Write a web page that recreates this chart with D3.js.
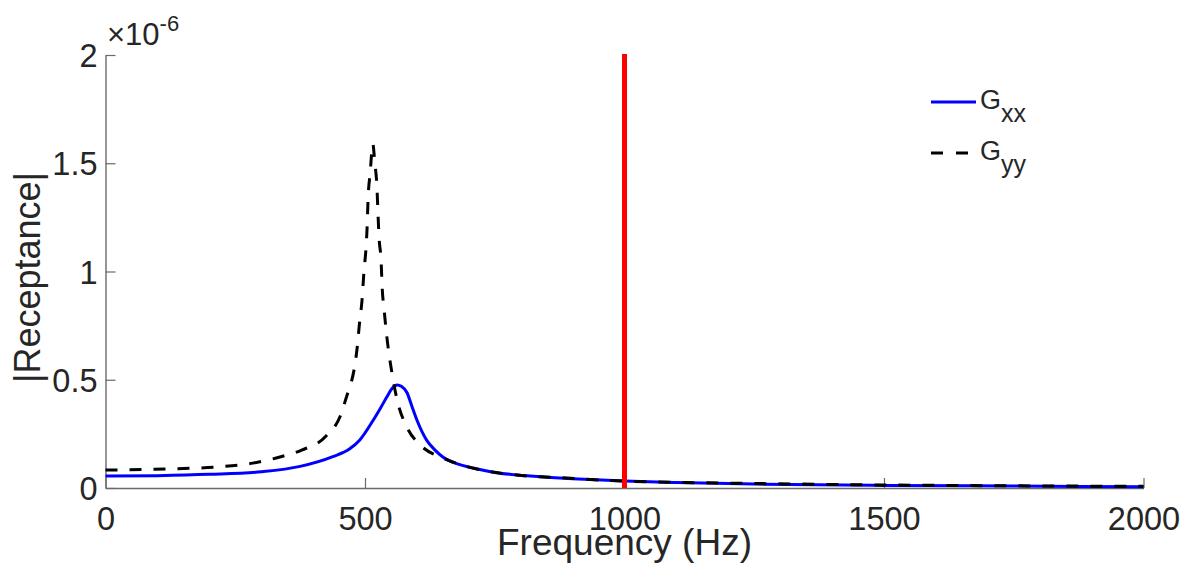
<!DOCTYPE html>
<html>
<head>
<meta charset="utf-8">
<script src="https://cdn.jsdelivr.net/npm/d3@7"></script>
<style>
  body { margin: 0; background: #fff; }
  svg { display: block; }
  .lbl { font-family: "Liberation Sans", Arial, Helvetica, sans-serif; fill: #262626; }
</style>
</head>
<body>
<svg id="chart" width="1192" height="569"></svg>
<script>
// receptance magnitude, in units of 1e-6
var freqXX = [0, 100, 200, 300, 375, 438, 470, 490, 516, 530, 542, 552, 562, 570, 581, 590, 600, 619, 635, 650, 680, 708, 750, 793, 850, 900, 1000, 1100, 1250, 1500, 1750, 2000];
var gxx    = [0.055, 0.057, 0.063, 0.075, 0.100, 0.145, 0.180, 0.222, 0.314, 0.370, 0.420, 0.460, 0.476, 0.470, 0.440, 0.380, 0.314, 0.220, 0.175, 0.143, 0.110, 0.092, 0.072, 0.060, 0.050, 0.043, 0.032, 0.025, 0.018, 0.012, 0.009, 0.006];

var freqYY = [0, 117, 214, 284, 336, 378, 425, 452, 467, 471, 485, 490, 494, 498, 502, 504, 506, 510, 515, 519, 523, 525, 527, 531, 533, 537, 542, 552, 562, 581, 606, 650, 708, 793, 889, 997, 1250, 1500, 1750, 2000];
var gyy    = [0.083, 0.088, 0.097, 0.115, 0.143, 0.175, 0.240, 0.330, 0.440, 0.467, 0.650, 0.776, 0.860, 1.000, 1.110, 1.200, 1.340, 1.455, 1.590, 1.500, 1.390, 1.270, 1.160, 1.050, 0.930, 0.820, 0.700, 0.530, 0.406, 0.280, 0.200, 0.139, 0.092, 0.060, 0.046, 0.032, 0.021, 0.014, 0.010, 0.008];

var xTicks = [0, 500, 1000, 1500, 2000];
var yTicks = [0, 0.5, 1, 1.5, 2];
var markerFreq = 1000;

var svg = d3.select("#chart");

var x = d3.scaleLinear().domain([0, 2000]).range([105.5, 1143.5]);
var y = d3.scaleLinear().domain([0, 2]).range([488, 55]);

// axes (matlab style, ticks pointing in)
var xAxis = d3.axisBottom(x).tickValues(xTicks).tickFormat(d3.format("d"))
    .tickSizeInner(-10).tickSizeOuter(0).tickPadding(19);
var yAxis = d3.axisLeft(y).tickValues(yTicks).tickFormat(function(d) { return String(d); })
    .tickSizeInner(-10).tickSizeOuter(0).tickPadding(8);

function styleAxis(g) {
  g.select(".domain").attr("stroke", "#6a6a6a").attr("stroke-width", 1.4);
  g.selectAll(".tick line").attr("stroke", "#6a6a6a").attr("stroke-width", 1.2);
  g.selectAll(".tick text").attr("class", "lbl").style("font-size", "32.5px").attr("fill", "#262626");
}

svg.append("g").attr("transform", "translate(0,488)").call(xAxis).call(styleAxis)
  .selectAll(".tick text").attr("dy", "0.71em");
svg.append("g").attr("transform", "translate(105.5,0)").call(yAxis).call(styleAxis)
  .selectAll(".tick text").attr("dy", "0.36em");

// exponent
var expo = svg.append("text").attr("class", "lbl").attr("x", 107).attr("y", 45).style("font-size", "31px");
expo.append("tspan").text("\u00d710");
expo.append("tspan").attr("dy", -14).style("font-size", "22px").text("-6");

// axis labels
svg.append("text").attr("class", "lbl").attr("x", (x(0) + x(2000)) / 2).attr("y", 555)
  .attr("text-anchor", "middle").style("font-size", "37px").text("Frequency (Hz)");
svg.append("text").attr("class", "lbl")
  .attr("transform", "translate(40," + ((y(0) + y(2)) / 2 + 6) + ") rotate(-90)")
  .attr("text-anchor", "middle").style("font-size", "36px").text("|Receptance|");

// curves
var line = d3.line()
  .x(function(d) { return x(d[0]); })
  .y(function(d) { return y(d[1]); })
  .curve(d3.curveMonotoneX);

svg.append("path").datum(d3.zip(freqXX, gxx)).attr("d", line)
  .attr("fill", "none").attr("stroke", "#0000ff").attr("stroke-width", 3);
svg.append("path").datum(d3.zip(freqYY, gyy)).attr("d", line)
  .attr("fill", "none").attr("stroke", "#000").attr("stroke-width", 3)
  .attr("stroke-dasharray", "12,12");

// marker line at 1000 Hz
svg.append("line").attr("x1", x(markerFreq)).attr("x2", x(markerFreq))
  .attr("y1", y(2) - 1).attr("y2", y(0))
  .attr("stroke", "#ff0000").attr("stroke-width", 5);

// legend
var legend = svg.append("g");
var items = [
  { sub: "xx", color: "#0000ff", dash: null, yy: 102 },
  { sub: "yy", color: "#000", dash: "12,13", yy: 153 }
];
items.forEach(function(it) {
  legend.append("line").attr("x1", 931).attr("x2", 976).attr("y1", it.yy).attr("y2", it.yy)
    .attr("stroke", it.color).attr("stroke-width", 3).attr("stroke-dasharray", it.dash);
  var t = legend.append("text").attr("class", "lbl").attr("x", 980).attr("y", it.yy + 7)
    .style("font-size", "27px");
  t.append("tspan").text("G");
  t.append("tspan").attr("dy", 13).style("font-size", "25px").text(it.sub);
});
</script>
</body>
</html>
